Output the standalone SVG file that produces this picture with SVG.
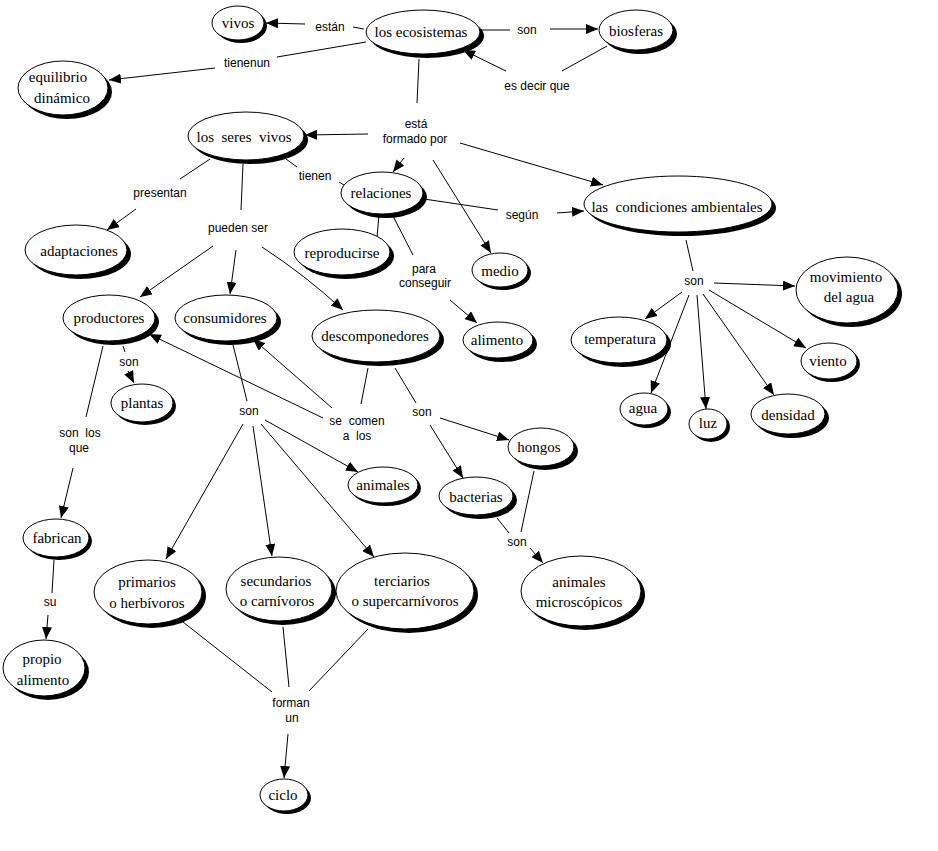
<svg xmlns="http://www.w3.org/2000/svg" width="938" height="851" viewBox="0 0 938 851">
<style>
.sh{fill:#000;stroke:none}
.nd{fill:#fff;stroke:#000;stroke-width:1}
text{white-space:pre}
.nt{font-family:"Liberation Serif","Times New Roman",serif;font-size:15px;fill:#000;text-anchor:middle}
.lt{font-family:"Liberation Sans",Arial,sans-serif;font-size:12px;fill:#000;text-anchor:middle}
.c{stroke:#000;stroke-width:1;fill:none}
.a{marker-end:url(#arr)}
</style>
<defs>
<marker id="arr" viewBox="0 0 12 10" refX="12" refY="5" markerWidth="12" markerHeight="10" markerUnits="userSpaceOnUse" orient="auto">
<path d="M0,0 L12,5 L0,10 z" fill="#000"/>
</marker>
</defs>
<rect width="938" height="851" fill="#fff"/>
<g id="connectors">
<line class="c" x1="353" y1="27" x2="364" y2="29"/>
<line class="c a" x1="305" y1="24" x2="266" y2="23"/>
<line class="c" x1="366" y1="42" x2="277" y2="57"/>
<line class="c a" x1="215" y1="68" x2="109" y2="80"/>
<line class="c" x1="481" y1="30" x2="510" y2="30"/>
<line class="c a" x1="550" y1="29" x2="598" y2="29"/>
<line class="c" x1="607" y1="46" x2="562" y2="71"/>
<line class="c a" x1="506" y1="71" x2="463" y2="50"/>
<line class="c" x1="419" y1="59" x2="417" y2="103"/>
<line class="c a" x1="368" y1="134" x2="305" y2="135"/>
<line class="c a" x1="404" y1="158" x2="393" y2="172"/>
<line class="c a" x1="460" y1="143" x2="603" y2="185"/>
<line class="c a" x1="433" y1="160" x2="491" y2="253"/>
<line class="c" x1="286" y1="159" x2="297" y2="167"/>
<line class="c" x1="339" y1="182" x2="344" y2="185"/>
<line class="c" x1="210" y1="159" x2="180" y2="179"/>
<line class="c a" x1="136" y1="209" x2="107" y2="230"/>
<line class="c" x1="243" y1="164" x2="241" y2="210"/>
<line class="c a" x1="213" y1="246" x2="140" y2="297"/>
<line class="c a" x1="236" y1="250" x2="230" y2="294"/>
<path class="c a" d="M262,247 Q305,275 343,310"/>
<line class="c" x1="424" y1="199" x2="498" y2="210"/>
<line class="c a" x1="557" y1="213" x2="584" y2="211"/>
<line class="c" x1="379" y1="215" x2="377" y2="237"/>
<line class="c" x1="393" y1="216" x2="413" y2="255"/>
<line class="c a" x1="450" y1="300" x2="477" y2="323"/>
<line class="c" x1="686" y1="240" x2="693" y2="271"/>
<line class="c a" x1="714" y1="283" x2="795" y2="286"/>
<line class="c a" x1="682" y1="292" x2="645" y2="319"/>
<line class="c a" x1="689" y1="295" x2="651" y2="393"/>
<line class="c a" x1="697" y1="295" x2="706" y2="409"/>
<line class="c a" x1="703" y1="294" x2="774" y2="395"/>
<line class="c a" x1="709" y1="290" x2="806" y2="348"/>
<line class="c" x1="123" y1="346" x2="125" y2="352"/>
<line class="c a" x1="128" y1="371" x2="134" y2="383"/>
<line class="c" x1="103" y1="346" x2="86" y2="417"/>
<line class="c a" x1="73" y1="468" x2="61" y2="518"/>
<line class="c" x1="54" y1="560" x2="52" y2="593"/>
<line class="c a" x1="48" y1="615" x2="46" y2="639"/>
<line class="c" x1="233" y1="345" x2="247" y2="401"/>
<line class="c a" x1="243" y1="424" x2="166" y2="559"/>
<line class="c a" x1="253" y1="426" x2="272" y2="556"/>
<line class="c a" x1="261" y1="424" x2="374" y2="557"/>
<line class="c a" x1="265" y1="420" x2="358" y2="472"/>
<line class="c a" x1="323" y1="418" x2="149" y2="334"/>
<line class="c a" x1="332" y1="408" x2="253" y2="339"/>
<line class="c" x1="368" y1="368" x2="361" y2="404"/>
<line class="c" x1="395" y1="368" x2="416" y2="403"/>
<line class="c a" x1="440" y1="418" x2="509" y2="440"/>
<line class="c a" x1="430" y1="425" x2="463" y2="478"/>
<line class="c" x1="497" y1="518" x2="509" y2="533"/>
<line class="c" x1="534" y1="471" x2="521" y2="532"/>
<line class="c a" x1="530" y1="548" x2="543" y2="563"/>
<line class="c" x1="183" y1="622" x2="272" y2="692"/>
<line class="c" x1="283" y1="627" x2="289" y2="687"/>
<line class="c" x1="368" y1="629" x2="309" y2="691"/>
<line class="c a" x1="288" y1="734" x2="284" y2="778"/>
</g>
<g id="node-vivos"><ellipse class="sh" cx="241" cy="26" rx="26" ry="17"/><ellipse class="nd" cx="238" cy="23" rx="26" ry="17"/><text class="nt" x="238" y="28">vivos</text></g>
<g id="node-ecosistemas"><ellipse class="sh" cx="427" cy="36" rx="57" ry="22"/><ellipse class="nd" cx="423" cy="32" rx="57" ry="22"/><text class="nt" x="421" y="37">los ecosistemas</text></g>
<g id="node-biosferas"><ellipse class="sh" cx="640" cy="34" rx="37" ry="20"/><ellipse class="nd" cx="636" cy="30" rx="37" ry="20"/><text class="nt" x="636" y="36">biosferas</text></g>
<g id="node-equilibrio"><ellipse class="sh" cx="67" cy="92" rx="45" ry="27"/><ellipse class="nd" cx="63" cy="88" rx="45" ry="27"/><text class="nt" x="58" y="82">equilibrio</text><text class="nt" x="62" y="103">dinámico</text></g>
<g id="node-seres-vivos"><ellipse class="sh" cx="250" cy="140" rx="58" ry="24"/><ellipse class="nd" cx="246" cy="136" rx="58" ry="24"/><text class="nt" x="244" y="142" xml:space="preserve">los  seres  vivos</text></g>
<g id="node-adaptaciones"><ellipse class="sh" cx="80" cy="254" rx="51" ry="25"/><ellipse class="nd" cx="76" cy="250" rx="51" ry="25"/><text class="nt" x="79" y="256">adaptaciones</text></g>
<g id="node-relaciones"><ellipse class="sh" cx="386" cy="197" rx="41" ry="21"/><ellipse class="nd" cx="382" cy="193" rx="41" ry="21"/><text class="nt" x="381" y="198">relaciones</text></g>
<g id="node-reproducirse"><ellipse class="sh" cx="346" cy="256" rx="48" ry="23"/><ellipse class="nd" cx="342" cy="252" rx="48" ry="23"/><text class="nt" x="342" y="258">reproducirse</text></g>
<g id="node-medio"><ellipse class="sh" cx="503" cy="273" rx="28" ry="17"/><ellipse class="nd" cx="500" cy="270" rx="28" ry="17"/><text class="nt" x="500" y="276">medio</text></g>
<g id="node-alimento"><ellipse class="sh" cx="502" cy="344" rx="35" ry="18"/><ellipse class="nd" cx="498" cy="340" rx="35" ry="18"/><text class="nt" x="497" y="345">alimento</text></g>
<g id="node-descomponedores"><ellipse class="sh" cx="380" cy="340" rx="64" ry="26"/><ellipse class="nd" cx="376" cy="336" rx="64" ry="26"/><text class="nt" x="375" y="341">descomponedores</text></g>
<g id="node-condiciones"><ellipse class="sh" cx="682" cy="208" rx="94" ry="28"/><ellipse class="nd" cx="678" cy="204" rx="94" ry="28"/><text class="nt" x="677" y="212" xml:space="preserve">las  condiciones ambientales</text></g>
<g id="node-productores"><ellipse class="sh" cx="113" cy="322" rx="46" ry="23"/><ellipse class="nd" cx="109" cy="318" rx="46" ry="23"/><text class="nt" x="109" y="323">productores</text></g>
<g id="node-consumidores"><ellipse class="sh" cx="230" cy="322" rx="51" ry="23"/><ellipse class="nd" cx="226" cy="318" rx="51" ry="23"/><text class="nt" x="225" y="323">consumidores</text></g>
<g id="node-plantas"><ellipse class="sh" cx="145" cy="406" rx="31" ry="19"/><ellipse class="nd" cx="142" cy="403" rx="31" ry="19"/><text class="nt" x="142" y="408">plantas</text></g>
<g id="node-animales"><ellipse class="sh" cx="386" cy="488" rx="35" ry="18"/><ellipse class="nd" cx="383" cy="485" rx="35" ry="18"/><text class="nt" x="383" y="490">animales</text></g>
<g id="node-fabrican"><ellipse class="sh" cx="59" cy="541" rx="33" ry="19"/><ellipse class="nd" cx="56" cy="538" rx="33" ry="19"/><text class="nt" x="57" y="543">fabrican</text></g>
<g id="node-propio-alimento"><ellipse class="sh" cx="48" cy="672" rx="41" ry="28"/><ellipse class="nd" cx="44" cy="668" rx="41" ry="28"/><text class="nt" x="42" y="664">propio</text><text class="nt" x="43" y="685">alimento</text></g>
<g id="node-primarios"><ellipse class="sh" cx="152" cy="596" rx="54" ry="32"/><ellipse class="nd" cx="148" cy="592" rx="54" ry="32"/><text class="nt" x="147" y="587">primarios</text><text class="nt" x="147" y="608">o herbívoros</text></g>
<g id="node-secundarios"><ellipse class="sh" cx="283" cy="593" rx="53" ry="32"/><ellipse class="nd" cx="279" cy="589" rx="53" ry="32"/><text class="nt" x="276" y="586">secundarios</text><text class="nt" x="277" y="606">o carnívoros</text></g>
<g id="node-terciarios"><ellipse class="sh" cx="409" cy="595" rx="69" ry="38"/><ellipse class="nd" cx="405" cy="591" rx="69" ry="38"/><text class="nt" x="402" y="586">terciarios</text><text class="nt" x="405" y="606">o supercarnívoros</text></g>
<g id="node-ciclo"><ellipse class="sh" cx="287" cy="798" rx="24" ry="16"/><ellipse class="nd" cx="284" cy="795" rx="24" ry="16"/><text class="nt" x="283" y="800">ciclo</text></g>
<g id="node-hongos"><ellipse class="sh" cx="545" cy="451" rx="33" ry="19"/><ellipse class="nd" cx="541" cy="447" rx="33" ry="19"/><text class="nt" x="539" y="452">hongos</text></g>
<g id="node-bacterias"><ellipse class="sh" cx="480" cy="500" rx="37" ry="19"/><ellipse class="nd" cx="476" cy="496" rx="37" ry="19"/><text class="nt" x="476" y="502">bacterias</text></g>
<g id="node-microscopicos"><ellipse class="sh" cx="585" cy="595" rx="60" ry="35"/><ellipse class="nd" cx="581" cy="591" rx="60" ry="35"/><text class="nt" x="579" y="587">animales</text><text class="nt" x="579" y="607">microscópicos</text></g>
<g id="node-temperatura"><ellipse class="sh" cx="623" cy="344" rx="48" ry="23"/><ellipse class="nd" cx="619" cy="340" rx="48" ry="23"/><text class="nt" x="620" y="344">temperatura</text></g>
<g id="node-agua"><ellipse class="sh" cx="647" cy="412" rx="24" ry="16"/><ellipse class="nd" cx="644" cy="409" rx="24" ry="16"/><text class="nt" x="643" y="413">agua</text></g>
<g id="node-luz"><ellipse class="sh" cx="711" cy="427" rx="19" ry="15"/><ellipse class="nd" cx="708" cy="424" rx="19" ry="15"/><text class="nt" x="708" y="428">luz</text></g>
<g id="node-densidad"><ellipse class="sh" cx="792" cy="418" rx="37" ry="20"/><ellipse class="nd" cx="788" cy="414" rx="37" ry="20"/><text class="nt" x="788" y="420">densidad</text></g>
<g id="node-viento"><ellipse class="sh" cx="832" cy="364" rx="28" ry="18"/><ellipse class="nd" cx="829" cy="361" rx="28" ry="18"/><text class="nt" x="828" y="366">viento</text></g>
<g id="node-movimiento"><ellipse class="sh" cx="851" cy="294" rx="51" ry="33"/><ellipse class="nd" cx="847" cy="290" rx="51" ry="33"/><text class="nt" x="846" y="282">movimiento</text><text class="nt" x="849" y="302">del agua</text></g>
<g id="link-estan"><text class="lt" x="330" y="31">están</text></g>
<g id="link-tienenun"><text class="lt" x="247" y="67">tienenun</text></g>
<g id="link-son-biosferas"><text class="lt" x="527" y="34">son</text></g>
<g id="link-es-decir-que"><text class="lt" x="537" y="90">es decir que</text></g>
<g id="link-esta-formado"><text class="lt" x="416" y="128">está</text><text class="lt" x="415" y="143">formado por</text></g>
<g id="link-tienen"><text class="lt" x="315" y="180">tienen</text></g>
<g id="link-presentan"><text class="lt" x="160" y="197">presentan</text></g>
<g id="link-pueden-ser"><text class="lt" x="238" y="232">pueden ser</text></g>
<g id="link-segun"><text class="lt" x="522" y="219">según</text></g>
<g id="link-para"><text class="lt" x="424" y="273">para</text><text class="lt" x="425" y="287">conseguir</text></g>
<g id="link-son-condiciones"><text class="lt" x="694" y="285">son</text></g>
<g id="link-son-productores"><text class="lt" x="129" y="366">son</text></g>
<g id="link-son-los-que"><text class="lt" x="80" y="437" xml:space="preserve">son  los</text><text class="lt" x="79" y="452">que</text></g>
<g id="link-son-consumidores"><text class="lt" x="249" y="415">son</text></g>
<g id="link-se-comen"><text class="lt" x="357" y="425" xml:space="preserve">se  comen</text><text class="lt" x="357" y="440" xml:space="preserve">a  los</text></g>
<g id="link-son-descomponedores"><text class="lt" x="422" y="416">son</text></g>
<g id="link-son-bacterias"><text class="lt" x="517" y="546">son</text></g>
<g id="link-su"><text class="lt" x="50" y="606">su</text></g>
<g id="link-forman"><text class="lt" x="291" y="707">forman</text><text class="lt" x="292" y="722">un</text></g>
</svg>
